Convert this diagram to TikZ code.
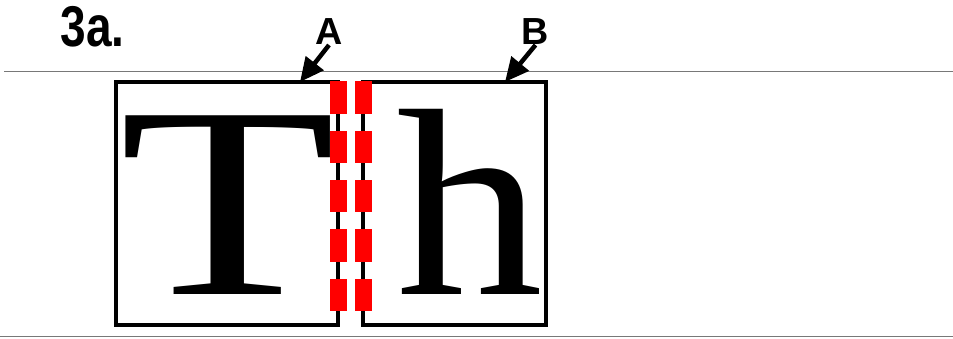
\documentclass[tikz,border=0pt]{standalone}
\usepackage{fontspec}
\setmainfont{Liberation Serif}
\newfontfamily\labelfont{Liberation Sans}
\usetikzlibrary{arrows.meta}
\definecolor{rulegray}{RGB}{120,120,120}
\definecolor{dashred}{RGB}{255,0,0}
\begin{document}
\begin{tikzpicture}[x=1pt,y=-1pt,
  box/.style={draw=black,line width=4pt,inner sep=0pt,outer sep=0pt},
  tag/.style={inner sep=0pt,outer sep=0pt,anchor=base,font=\labelfont\bfseries\fontsize{37.7}{40}\selectfont},
  pointer/.style={line width=4.5pt,-{Triangle[length=24pt,width=22pt]}},
  rulel/.style={draw=rulegray,line width=1.4pt},
  redbar/.style={fill=dashred,draw=none}
]
\useasboundingbox (0,0) rectangle (953,339);
% rules
\draw[rulel] (4,71.7) -- (953,71.7);
\draw[rulel] (0,336.7) -- (953,336.7);
% title
\node[inner sep=0pt,anchor=base west] (title) at (60.5,47)
  {\scalebox{0.80}[1]{\labelfont\bfseries\fontsize{57.5}{60}\selectfont 3a.}};
% boxes
\node[box,minimum width=222.8pt,minimum height=243pt] (boxA) at (226.9,203.5) {};
\node[box,minimum width=182.2pt,minimum height=243pt] (boxB) at (454.4,203.5) {};
% letters
\node[inner sep=0pt,anchor=base] (T) at (228,294)
  {\scalebox{1.3}[1]{\fontsize{273}{273}\selectfont T}};
\node[inner sep=0pt,anchor=base] (h) at (470,294)
  {\scalebox{1.1}[1]{\fontsize{267}{267}\selectfont h}};
% red dashes
\foreach \yy in {0,1,2,3,4}{
  \fill[redbar] (329.8,81.5+49.3*\yy) rectangle (346.8,113.8+49.3*\yy);
  \fill[redbar] (354.8,81.5+49.3*\yy) rectangle (371.8,113.8+49.3*\yy);
}
% labels and pointers
\node[tag] (A) at (329,45) {A};
\node[tag] (B) at (535.5,45) {B};
\coordinate (tipA) at (300,82);
\coordinate (tipB) at (505,82);
\draw[pointer] (A.south) -- (tipA);
\draw[pointer] (B.south) -- (tipB);
\end{tikzpicture}
\end{document}
